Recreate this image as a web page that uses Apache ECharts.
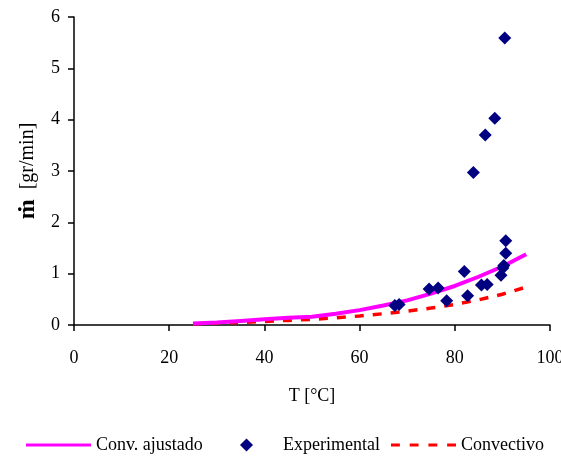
<!DOCTYPE html>
<html>
<head>
<meta charset="utf-8">
<script src="https://cdn.jsdelivr.net/npm/echarts@6/dist/echarts.min.js"></script>
<style>
  html, body { margin: 0; padding: 0; background: #fff; }
  #chart { width: 561px; height: 459px; }
</style>
</head>
<body>
<div id="chart"></div>
<script>
// Temperature grid for the model curves [°C]
const modelT = [25, 30, 35, 40, 45, 50, 55, 60, 65, 70, 75, 80, 85, 90, 95];
// Fitted convective mass flow [gr/min]
const fittedFlow = [0.03, 0.05, 0.08, 0.11, 0.14, 0.16, 0.22, 0.29, 0.38, 0.48, 0.61, 0.76, 0.94, 1.14, 1.38];
// Plain convective model [gr/min]
const convectiveFlow = [0.02, 0.04, 0.05, 0.07, 0.09, 0.11, 0.14, 0.175, 0.22, 0.27, 0.33, 0.40, 0.49, 0.60, 0.74];

// Measured points: temperature [°C] and mass flow [gr/min]
const expT =    [67.4, 68.3, 74.6, 76.5, 78.3, 82.0, 82.7, 83.9, 85.6, 86.4, 86.8, 88.4, 89.7, 90.1, 90.3, 90.7, 90.7, 90.5];
const expFlow = [0.38, 0.40, 0.70, 0.72, 0.47, 1.04, 0.57, 2.97, 0.78, 3.70, 0.79, 4.03, 0.97, 1.11, 1.16, 1.40, 1.64, 5.59];

const xTicks = [0, 20, 40, 60, 80, 100];
const yTicks = [0, 1, 2, 3, 4, 5, 6];

const serif = '"Liberation Serif", "DejaVu Serif", serif';

// Shared look of the three legend entries
function legendEntry(name, left, icon, itemWidth, itemHeight, textLeftPad) {
  return {
    data: [name],
    left: left,
    top: 436,
    padding: 0,
    itemWidth: itemWidth,
    itemHeight: itemHeight,
    icon: icon,
    textStyle: { fontFamily: serif, fontSize: 18, color: '#000', padding: [8, 0, 0, textLeftPad] }
  };
}

const chart = echarts.init(document.getElementById('chart'));
chart.setOption({
  animation: false,
  backgroundColor: '#ffffff',
  textStyle: { fontFamily: serif, color: '#000' },
  grid: { left: 74, right: 11, top: 17, bottom: 134, containLabel: false, outerBoundsMode: 'none' },
  legend: [
    legendEntry('Conv. ajustado', 26, 'rect', 65, 3, 0),
    legendEntry('Experimental', 240, 'diamond', 13, 13, 25),
    legendEntry('Convectivo', 391, 'path://M0,0h9v3h-9z M19,0h9v3h-9z M38,0h9v3h-9z M57,0h9v3h-9z', 65, 3, 0)
  ],
  xAxis: {
    type: 'value',
    min: xTicks[0],
    max: xTicks[xTicks.length - 1],
    interval: 20,
    name: 'T [°C]',
    nameLocation: 'middle',
    nameGap: 62,
    nameTextStyle: { fontFamily: serif, fontSize: 18, color: '#000' },
    axisLine: { show: true, onZero: false, lineStyle: { color: '#000', width: 1.5 } },
    axisTick: { show: true, length: 6, inside: false, lineStyle: { color: '#000', width: 1.5 } },
    axisLabel: { fontFamily: serif, fontSize: 18, color: '#000', margin: 24 },
    splitLine: { show: false }
  },
  yAxis: {
    type: 'value',
    min: yTicks[0],
    max: yTicks[yTicks.length - 1],
    interval: 1,
    name: '{m|ṁ}  [gr/min]',
    nameLocation: 'middle',
    nameGap: 33,
    nameRotate: 90,
    nameTextStyle: {
      fontFamily: serif, fontSize: 20, color: '#000',
      rich: { m: { fontFamily: serif, fontSize: 24, fontWeight: 'bold', color: '#000' } }
    },
    axisLine: { show: true, lineStyle: { color: '#000', width: 1.5 } },
    axisTick: { show: true, length: 6, inside: false, lineStyle: { color: '#000', width: 1.5 } },
    axisLabel: { fontFamily: serif, fontSize: 18, color: '#000', margin: 14 },
    splitLine: { show: false }
  },
  series: [
    {
      name: 'Conv. ajustado',
      type: 'line',
      symbol: 'none',
      smooth: false,
      z: 2,
      color: '#ff00ff',
      lineStyle: { color: '#ff00ff', width: 4 },
      data: modelT.map((t, i) => [t, fittedFlow[i]])
    },
    {
      name: 'Experimental',
      type: 'scatter',
      symbol: 'diamond',
      symbolSize: 13,
      z: 3,
      color: '#000080',
      itemStyle: { color: '#000080', opacity: 1 },
      data: expT.map((t, i) => [t, expFlow[i]])
    },
    {
      name: 'Convectivo',
      type: 'line',
      symbol: 'none',
      z: 1,
      color: '#ff0000',
      lineStyle: { color: '#ff0000', width: 3.5, type: [9, 9] },
      data: modelT.map((t, i) => [t, convectiveFlow[i]])
    }
  ]
});
</script>
</body>
</html>
